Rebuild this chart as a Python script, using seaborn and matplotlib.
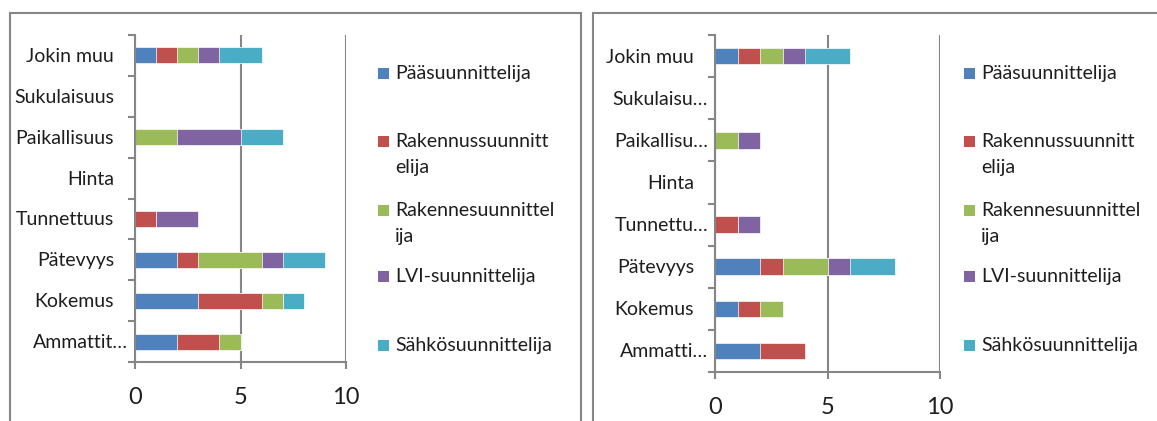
import numpy as np
import pandas as pd
import matplotlib
matplotlib.use("Agg")
import matplotlib.pyplot as plt
import seaborn as sns
from matplotlib.patches import Rectangle

sns.set_style("white")
plt.rcParams["font.family"] = ["Lato", "DejaVu Sans"]

# ---------------------------------------------
# Data
# ---------------------------------------------
series = ["Pääsuunnittelija", "Rakennussuunnittelija", "Rakennesuunnittelija",
          "LVI-suunnittelija", "Sähkösuunnittelija"]
legend_labels = ["Pääsuunnittelija", "Rakennussuunnitt\nelija", "Rakennesuunnittel\nija",
                 "LVI-suunnittelija", "Sähkösuunnittelija"]
colors = ["#4F81BD", "#C0504D", "#9BBB59", "#8064A2", "#4BACC6"]

# categories from top to bottom
cats_left = ["Jokin muu", "Sukulaisuus", "Paikallisuus", "Hinta",
             "Tunnettuus", "Pätevyys", "Kokemus", "Ammattit…"]
paa_left = [1, 0, 0, 0, 0, 2, 3, 2]
rakennus_left = [1, 0, 0, 0, 1, 1, 3, 2]
rakenne_left = [1, 0, 2, 0, 0, 3, 1, 1]
lvi_left = [1, 0, 3, 0, 2, 1, 0, 0]
sahko_left = [2, 0, 2, 0, 0, 2, 1, 0]

cats_right = ["Jokin muu", "Sukulaisu…", "Paikallisu…", "Hinta",
              "Tunnettu…", "Pätevyys", "Kokemus", "Ammatti…"]
paa_right = [1, 0, 0, 0, 0, 2, 1, 2]
rakennus_right = [1, 0, 0, 0, 1, 1, 1, 2]
rakenne_right = [1, 0, 1, 0, 0, 2, 1, 0]
lvi_right = [1, 0, 1, 0, 1, 1, 0, 0]
sahko_right = [2, 0, 0, 0, 0, 2, 0, 0]

xticks = [0, 5, 10]

# ---------------------------------------------
# Layout helpers (pixels of a 1157x421 image)
# ---------------------------------------------
W, H = 1157, 421
GRAY = "#868686"
TEXT = "#1e1e1e"
PX = 0.72  # points per pixel at dpi 100

fig = plt.figure(figsize=(W / 100, H / 100), dpi=100)


def px_axes(left, top, right, bottom):
    return fig.add_axes([left / W, 1 - bottom / H, (right - left) / W, (bottom - top) / H])


def draw_panel(ax, cats, values):
    df = pd.DataFrame(dict(zip(series, values)), index=cats)
    cum = df.cumsum(axis=1)
    # stacked bars: draw the running totals from the last series back to the first
    for name, color in reversed(list(zip(series, colors))):
        sns.barplot(x=cum[name].values, y=cats, orient="h", color=color, saturation=1,
                    width=0.39, edgecolor="white", linewidth=0.5, errorbar=None, ax=ax)

    ax.set_xlim(0, 10)
    ax.set_ylim(len(cats) - 0.5, -0.5)
    ax.set_xticks(xticks)
    ax.set_xlabel("")
    ax.set_ylabel("")
    ax.set_yticks(range(len(cats)))
    ax.set_yticklabels([])
    ax.set_yticks(np.arange(-0.5, len(cats), 1), minor=True)
    ax.tick_params(axis="y", which="major", length=0)
    ax.tick_params(axis="y", which="minor", length=5, width=1.5, color=GRAY, direction="out", left=True)
    ax.tick_params(axis="x", length=5, width=1.5, color=GRAY, direction="out", bottom=True,
                   pad=13, labelsize=17, labelcolor=TEXT)
    ax.grid(axis="x", color=GRAY, linewidth=1.5)
    ax.grid(axis="y", visible=False)
    ax.set_axisbelow(True)
    for side in ["top", "right"]:
        ax.spines[side].set_visible(False)
    for side in ["left", "bottom"]:
        ax.spines[side].set_color(GRAY)
        ax.spines[side].set_linewidth(1.5)

    # category labels; truncated ones sit closer to the axis as in Excel
    for i, c in enumerate(cats):
        off = -7 if "…" in c else -21
        ax.annotate(c, xy=(0, i), xycoords=("axes fraction", "data"),
                    xytext=(off * PX, -6.5 * PX), textcoords="offset points",
                    ha="right", va="baseline", fontsize=14, color=TEXT)


def draw_legend(square_x, text_x):
    baselines = [79, 147, 216, 282, 351]
    for lab, col, b in zip(legend_labels, colors, baselines):
        fig.patches.append(Rectangle((square_x / W, 1 - b / H), 11 / W, 11 / H,
                                     transform=fig.transFigure, facecolor=col,
                                     edgecolor="none", figure=fig))
        # Excel wraps long names; each line 26 px below the previous one
        for k, line in enumerate(lab.split("\n")):
            fig.text(text_x / W, 1 - (b + 26 * k) / H, line, ha="left", va="baseline",
                     fontsize=14, color=TEXT)


# panel frames
fig.patches.append(Rectangle((10 / W, -0.2), 571 / W, 1.2 - 13 / H, transform=fig.transFigure,
                             facecolor="none", edgecolor=GRAY, linewidth=1.5, figure=fig))
fig.patches.append(Rectangle((593 / W, -0.2), 0.7, 1.2 - 13 / H, transform=fig.transFigure,
                             facecolor="none", edgecolor=GRAY, linewidth=1.5, figure=fig))

ax1 = px_axes(135, 35, 346, 362)
draw_panel(ax1, cats_left, [paa_left, rakennus_left, rakenne_left, lvi_left, sahko_left])
draw_legend(378, 395)

ax2 = px_axes(715, 35, 940, 372)
draw_panel(ax2, cats_right, [paa_right, rakennus_right, rakenne_right, lvi_right, sahko_right])
draw_legend(964, 981)

fig.savefig("out.png", dpi=100)
